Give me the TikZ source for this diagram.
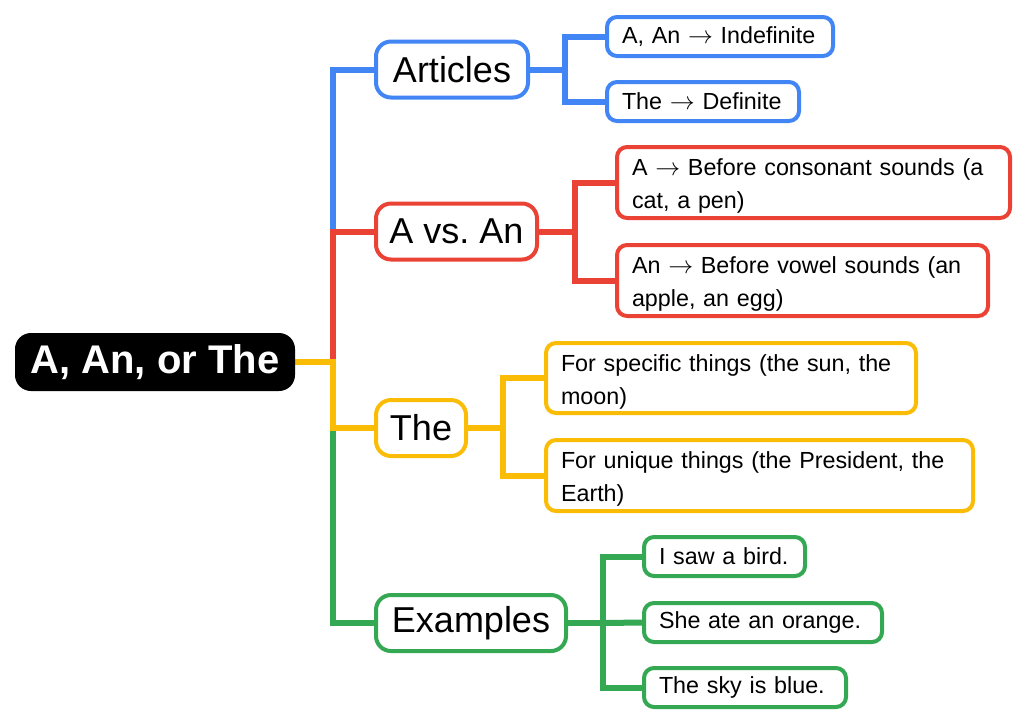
\documentclass[tikz,border=0pt]{standalone}
\usepackage{fontspec}
\setmainfont{Liberation Sans}
\usetikzlibrary{backgrounds}
\definecolor{gblue}{HTML}{4285F4}
\definecolor{gred}{HTML}{EA4335}
\definecolor{gyellow}{HTML}{FBBC05}
\definecolor{ggreen}{HTML}{34A853}
\newcommand{\arr}{\ensuremath{\rightarrow}}
\newcommand{\tstrut}{\rule{0pt}{24pt}}
\frenchspacing
\begin{document}
\begin{tikzpicture}[x=1pt,y=-1pt,
  rootbox/.style={draw=black, fill=black, line width=2pt, rounded corners=15pt, inner sep=0pt,
    minimum width=278pt, minimum height=56pt, text=white, font=\bfseries\fontsize{40}{44}\selectfont},
  lone/.style={draw=#1, line width=4pt, fill=white, rounded corners=15pt, inner sep=0pt,
    minimum height=56pt, anchor=west, font=\fontsize{36}{40}\selectfont},
  ltwo/.style={draw=#1, line width=4pt, fill=white, rounded corners=10pt, inner xsep=15pt, inner ysep=0pt,
    anchor=west, align=left, font=\fontsize{23.3}{33}\selectfont},
  branch/.style={draw=#1, line width=6pt},
]
\useasboundingbox (0,0) rectangle (1024,724);

% root
\node[rootbox] (root) at (155,362) {A, An, or The};

% level one
\node[lone=gblue, minimum width=152pt] (art) at (374,69.5) {Articles};
\node[lone=gred, minimum width=161pt] (avs) at (374,231.5) {A vs. An};
\node[lone=gyellow, minimum width=90pt] (the) at (374,428) {The};
\node[lone=ggreen, minimum width=190pt] (ex) at (374,623) {Examples};

% level two - blue
\node[ltwo=gblue, text width=196pt, minimum height=39pt] (b1) at (605,36.5) {A, An \arr{} Indefinite};
\node[ltwo=gblue, text width=162pt, minimum height=39pt] (b2) at (605,101.5) {The \arr{} Definite};
% red
\node[ltwo=gred, text width=363pt, minimum height=71pt] (r1) at (615,182.5) {\tstrut A \arr{} Before consonant sounds (a\\cat, a pen)};
\node[ltwo=gred, text width=341pt, minimum height=71pt] (r2) at (615,280.5) {\tstrut An \arr{} Before vowel sounds (an\\apple, an egg)};
% yellow
\node[ltwo=gyellow, text width=340pt, minimum height=70pt] (y1) at (544,378) {\tstrut For specific things (the sun, the\\moon)};
\node[ltwo=gyellow, text width=397pt, minimum height=71pt] (y2) at (544,475.5) {\tstrut For unique things (the President, the\\Earth)};
% green
\node[ltwo=ggreen, text width=131pt, minimum height=39pt] (g1) at (642,556.5) {I saw a bird.};
\node[ltwo=ggreen, text width=208pt, minimum height=39pt] (g2) at (642,622.5) {She ate an orange.};
\node[ltwo=ggreen, text width=172pt, minimum height=39pt] (g3) at (642,687.5) {The sky is blue.};

\coordinate (hub) at (333,362);
\coordinate (hubb) at (565,69.5);
\coordinate (hubr) at (575,231.5);
\coordinate (huby) at (503,428);
\coordinate (hubg) at (603,623);

\begin{scope}[on background layer]
  \draw[branch=gblue] (root.east) -- (hub) |- (art.west);
  \draw[branch=gred] (root.east) -- (hub) |- (avs.west);
  \draw[branch=ggreen] (root.east) -- (hub) |- (ex.west);
  \draw[branch=gyellow] (root.east) -- (hub) |- (the.west);

  \draw[branch=gblue] (art.east) -- (hubb) |- (b1.west);
  \draw[branch=gblue] (hubb) |- (b2.west);
  \draw[branch=gred] (avs.east) -- (hubr) |- (r1.west);
  \draw[branch=gred] (hubr) |- (r2.west);
  \draw[branch=gyellow] (the.east) -- (huby) |- (y1.west);
  \draw[branch=gyellow] (huby) |- (y2.west);
  \draw[branch=ggreen] (ex.east) -- (hubg) |- (g1.west);
  \draw[branch=ggreen] (hubg) -- (g2.west);
  \draw[branch=ggreen] (hubg) |- (g3.west);
\end{scope}
\end{tikzpicture}
\end{document}
